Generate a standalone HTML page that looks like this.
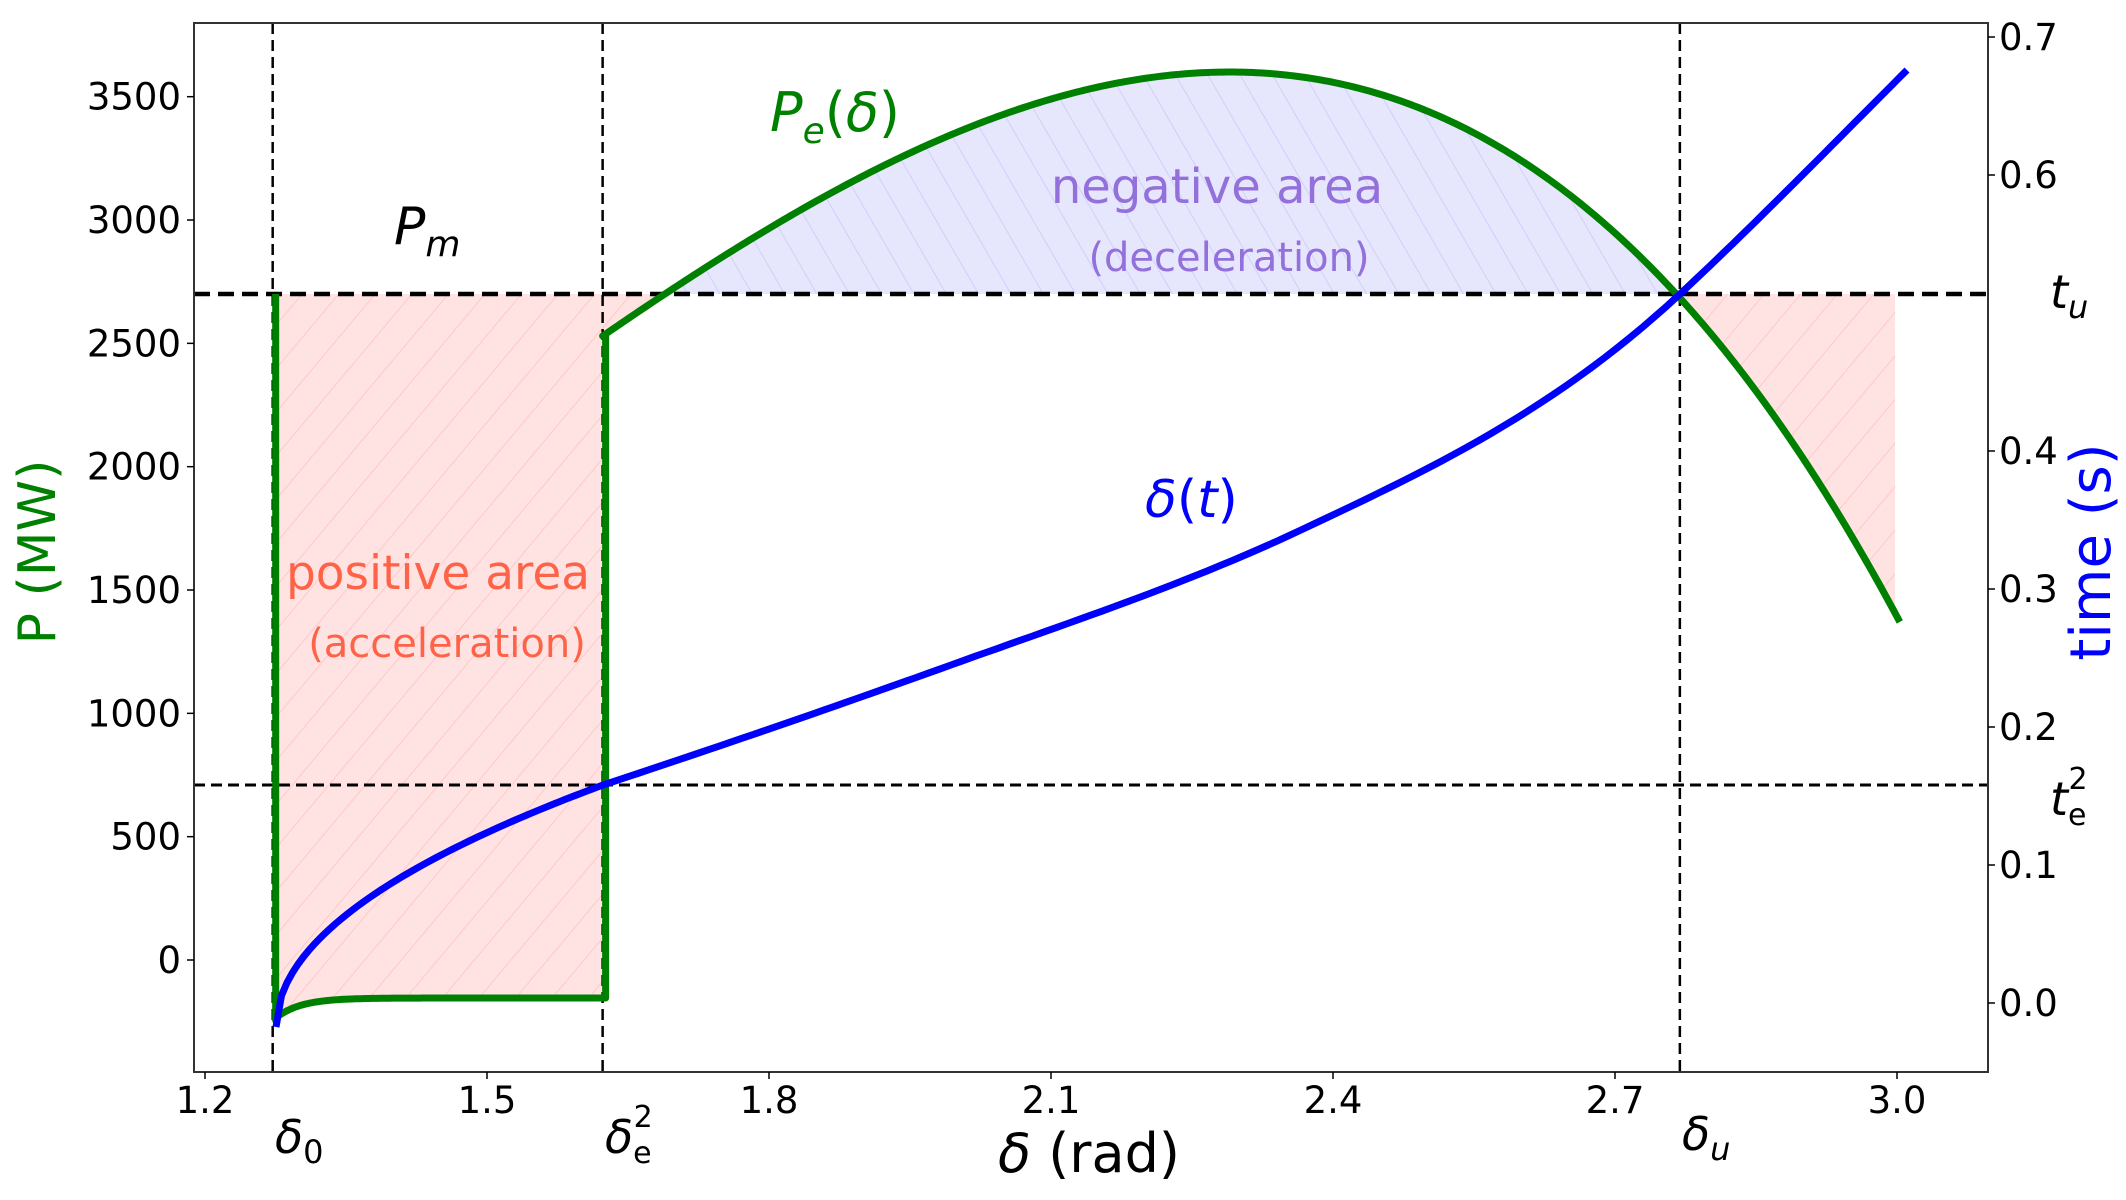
<!DOCTYPE html>
<html><head><meta charset="utf-8">
<style>
html,body{margin:0;padding:0;background:#fff;}
svg{display:block;}
text{font-family:"DejaVu Sans","Liberation Sans",sans-serif;}
</style></head>
<body>
<svg id="s" width="2126" height="1200" viewBox="0 0 2126 1200" xmlns="http://www.w3.org/2000/svg">
<defs>
<pattern id="hp" patternUnits="userSpaceOnUse" width="28" height="28" patternTransform="rotate(40)">
<rect width="28" height="28" fill="#ffe3e3"/>
<line x1="0" y1="0" x2="0" y2="28" stroke="#ffc8c8" stroke-width="2"/>
</pattern>
<pattern id="hb" patternUnits="userSpaceOnUse" width="28" height="28" patternTransform="rotate(-30)">
<rect width="28" height="28" fill="#e6e6fd"/>
<line x1="0" y1="0" x2="0" y2="28" stroke="#d0d0fa" stroke-width="2"/>
</pattern>
<clipPath id="ax"><rect x="194" y="23" width="1794" height="1049"/></clipPath>
</defs>
<g id="fills" clip-path="url(#ax)"></g>
<g id="lines" clip-path="url(#ax)"></g>
<rect x="194" y="23" width="1794" height="1049" fill="none" stroke="#333" stroke-width="2"/>
<g id="ticks" font-size="37" fill="#000"></g>
<text x="41" y="552" font-size="52" fill="#008000" text-anchor="middle" transform="rotate(-90 41 552)" dominant-baseline="middle">P (MW)</text>
<text x="2095" y="552" font-size="56" fill="#0000ff" text-anchor="middle" transform="rotate(-90 2095 552)" dominant-baseline="middle">time (s)</text>
<text x="1089" y="1172" font-size="54" text-anchor="middle"><tspan font-style="italic">δ</tspan> (rad)</text>
<text x="275" y="1153" font-size="46" font-style="italic">δ<tspan font-size="32" font-style="normal" dy="10">0</tspan></text>
<text x="605" y="1153" font-size="46" font-style="italic">δ<tspan font-size="30" font-style="normal" dy="10">e</tspan><tspan font-size="30" font-style="normal" dx="-18" dy="-36">2</tspan></text>
<text x="1682" y="1150" font-size="46" font-style="italic">δ<tspan font-size="32" dy="10">u</tspan></text>
<text x="2050" y="308" font-size="46" font-style="italic">t<tspan font-size="32" dy="10">u</tspan></text>
<text x="2050" y="815" font-size="46" font-style="italic">t<tspan font-size="30" font-style="normal" dy="10">e</tspan><tspan font-size="30" font-style="normal" dx="-18" dy="-36">2</tspan></text>
<text x="394" y="244" font-size="52" font-style="italic">P<tspan font-size="36" dy="12">m</tspan></text>
<text x="770" y="131" font-size="54" fill="#008000"><tspan font-style="italic">P</tspan><tspan font-size="36" font-style="italic" dy="12">e</tspan><tspan dy="-12">(</tspan><tspan font-style="italic">δ</tspan>)</text>
<text x="1217" y="203" font-size="48" fill="#9370db" text-anchor="middle">negative area</text>
<text x="1229" y="271" font-size="40" fill="#9370db" text-anchor="middle">(deceleration)</text>
<text x="438" y="589" font-size="47" fill="#ff6347" text-anchor="middle">positive area</text>
<text x="447" y="657" font-size="40" fill="#ff6347" text-anchor="middle">(acceleration)</text>
<text x="1145" y="517" font-size="52" fill="#0000ff"><tspan font-style="italic">δ</tspan>(<tspan font-style="italic">t</tspan>)</text>
</svg>
<script>
(function(){
var NS="http://www.w3.org/2000/svg";
function X(d){return 205+(d-1.2)*940;}
function Y(P){return 960-0.24666*P;}
function el(p,tag,a){var e=document.createElementNS(NS,tag);for(var k in a)e.setAttribute(k,a[k]);document.getElementById(p).appendChild(e);return e;}
var d0=1.272,de=1.623,du=2.769,dend=3.007;
function Pe(d){var t=d-2.29;var v=3600-3289*t*t-1324*t*t*t;if(t>0)v-=300*t*t*t*t;return v;}
function yf(x){return 998+19*Math.exp(-(x-277)/25);}
var x0=X(d0),xe=X(de),xu=X(du),xend=X(dend),yPm=Y(2700);
var p="M"+x0+","+yPm+" L"+x0+","+yf(x0);
for(var x=x0;x<=xe;x+=3)p+=" L"+x+","+yf(x);
p+=" L"+xe+","+yf(xe)+" L"+xe+","+yPm+" Z";
el("fills","path",{d:p,fill:"url(#hp)"});
var dc=de;while(Pe(dc)<2700)dc+=0.001;
p="M"+xe+","+yPm+" L"+xe+","+Y(Pe(de));
for(var d=de;d<=dc;d+=0.005)p+=" L"+X(d)+","+Y(Pe(d));
p+=" L"+X(dc)+","+yPm+" Z";
el("fills","path",{d:p,fill:"url(#hp)"});
p="M"+X(dc)+","+yPm;
for(var d=dc;d<=du;d+=0.005)p+=" L"+X(d)+","+Y(Pe(d));
p+=" L"+xu+","+yPm+" Z";
el("fills","path",{d:p,fill:"url(#hb)"});
p="M"+xu+","+yPm;
for(var d=du;d<=2.998;d+=0.005)p+=" L"+X(d)+","+Y(Pe(d));
p+=" L"+X(2.998)+","+Y(Pe(2.998))+" L"+X(2.998)+","+yPm+" Z";
el("fills","path",{d:p,fill:"url(#hp)"});
[x0,xe,xu].forEach(function(x){el("lines","line",{x1:x,y1:23,x2:x,y2:1072,stroke:"#000","stroke-width":2.5,"stroke-dasharray":"11,6"});});
el("lines","line",{x1:194,y1:785,x2:1988,y2:785,stroke:"#000","stroke-width":3,"stroke-dasharray":"11,6"});
el("lines","line",{x1:194,y1:yPm,x2:1988,y2:yPm,stroke:"#000","stroke-width":4.5,"stroke-dasharray":"16,8"});
var g="M"+(x0+3)+","+yPm+" L"+(x0+3)+","+yf(x0);
for(var x=x0+3;x<=xe;x+=3)g+=" L"+x+","+yf(x);
g+=" L"+(xe+3)+","+yf(xe)+" L"+(xe+3)+","+Y(Pe(de));
for(var d=de;d<=dend;d+=0.004)g+=" L"+X(d)+","+Y(Pe(d));
el("lines","path",{d:g,fill:"none",stroke:"#008000","stroke-width":7,"stroke-linejoin":"round"});
var b="M276,1027";
for(var i=1;i<=60;i++){var f=i/60;var x=276+f*(603-276);b+=" L"+x+","+(1027-242*Math.pow(f,0.5));}
var pts=[[603,785,-0.33],[951,665,-0.36],[1301,530,-0.47],[1680,294,-0.93],[1907,70,-1.0]];
for(var k=0;k<pts.length-1;k++){
var a=pts[k],c=pts[k+1],h=c[0]-a[0];
for(var s=1;s<=30;s++){var t=s/30,t2=t*t,t3=t2*t;
var h00=2*t3-3*t2+1,h10=t3-2*t2+t,h01=-2*t3+3*t2,h11=t3-t2;
var yy=h00*a[1]+h10*h*a[2]+h01*c[1]+h11*h*c[2];
b+=" L"+(a[0]+t*h).toFixed(1)+","+yy.toFixed(1);}}
el("lines","path",{d:b,fill:"none",stroke:"#0000ff","stroke-width":7,"stroke-linejoin":"round"});
var xt=["1.2","1.5","1.8","2.1","2.4","2.7","3.0"];
xt.forEach(function(l,i){var x=205+282*i;el("ticks","line",{x1:x,y1:1072,x2:x,y2:1079,stroke:"#000","stroke-width":1.5});var t=el("ticks","text",{x:x,y:1113,"text-anchor":"middle"});t.textContent=l;});
for(var i=0;i<=7;i++){var y=960-123.33*i;el("ticks","line",{x1:187,y1:y,x2:194,y2:y,stroke:"#000","stroke-width":1.5});var t=el("ticks","text",{x:181,y:y+13,"text-anchor":"end"});t.textContent=String(500*i);}
for(var i=0;i<=7;i++){if(i==5)continue;var y=1003-138*i;el("ticks","line",{x1:1988,y1:y,x2:1995,y2:y,stroke:"#000","stroke-width":1.5});var t=el("ticks","text",{x:1999,y:y+13});t.textContent="0."+i;}
})();
</script>
</body></html>
